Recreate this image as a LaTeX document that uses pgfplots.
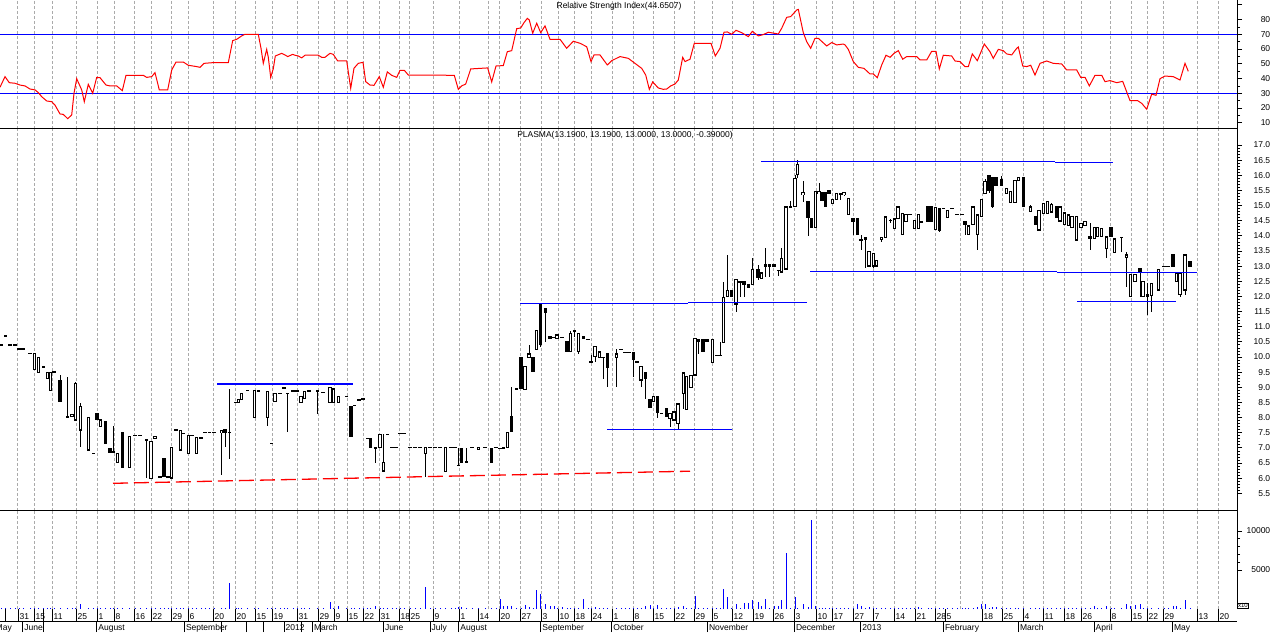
\documentclass[border=0pt]{standalone}
\usepackage{pgfplots}
\pgfplotsset{compat=1.18}
\usepackage{pgfplotstable}
\usepackage{fontspec}
\setmainfont{Liberation Sans}
\definecolor{gridgray}{RGB}{170,170,170}
\tikzset{lbl/.style={font=\fontsize{8.5}{10}\selectfont}}

\pgfplotstableread{
x o h l c v
1 10.40 10.40 10.40 10.40 150
5.5 10.71 10.71 10.71 10.71 150
10 10.40 10.40 10.40 10.40 150
15 10.40 10.40 10.40 10.40 150
19 10.27 10.27 10.27 10.27 150
23 10.27 10.27 10.27 10.27 150
30 10.12 10.12 10.12 10.12 150
34.3 9.59 10.12 9.59 10.12 150
38.8 9.49 9.98 9.49 9.98 150
43.3 9.68 9.68 9.68 9.68 150
47.3 9.29 9.51 9.29 9.49 150
50.8 8.90 9.51 8.90 9.49 150
54 9.51 9.51 9.51 9.51 150
60 9.21 9.40 8.52 8.52 150
67.5 8.03 9.33 8.03 8.03 150
72 8.03 8.11 8.03 8.11 150
75.7 7.92 9.18 7.92 9.13 150
80.8 7.59 8.47 7.04 8.38 641
88.7 6.93 8.00 6.93 8.00 150
93.7 6.82 6.82 6.82 6.82 150
97 8.12 8.12 7.94 7.94 150
100.8 7.70 7.92 7.70 7.92 150
105.7 7.87 7.87 7.15 7.15 150
110 6.99 6.99 6.84 6.84 150
113.3 6.87 7.72 6.84 6.87 150
117.7 6.51 6.82 6.51 6.82 150
122.5 7.52 7.52 6.36 6.36 150
129.7 6.36 7.39 6.36 7.39 150
135 7.41 7.41 7.41 7.41 150
140 7.41 7.41 7.41 7.41 150
146.7 7.29 7.29 5.99 7.23 150
151 5.98 7.21 5.98 7.21 150
155 7.31 7.39 7.31 7.39 150
160 6.05 6.05 6.05 6.05 150
164 6.65 6.65 6.05 6.05 150
168 6.05 6.05 6.05 6.05 150
171.7 6.00 7.02 6.00 7.02 150
176 7.59 7.59 7.59 7.59 150
180.3 6.93 7.59 6.93 7.57 150
183.3 7.48 7.48 7.48 7.48 150
188.8 6.82 7.42 6.82 7.42 150
192 7.41 7.41 7.41 7.41 150
196.3 6.82 7.35 6.82 7.35 150
201 7.34 7.34 7.34 7.34 150
205 7.51 7.51 7.51 7.51 150
209.5 7.51 7.51 7.51 7.51 150
214 7.51 7.51 7.51 7.51 150
221.3 7.51 7.57 6.10 7.57 150
225 7.59 7.59 7.04 7.52 150
229.3 7.51 8.96 6.62 7.51 3376
236 8.50 8.50 8.50 8.50 150
238.7 8.50 8.61 8.50 8.61 150
241.7 8.60 8.80 8.60 8.80 150
247.5 8.90 8.90 8.90 8.90 150
254.8 8.01 8.89 8.01 8.89 150
258.3 8.89 8.89 8.89 8.89 150
267.3 8.01 8.87 7.72 8.87 150
271.7 7.15 7.15 7.15 7.15 150
275 8.53 8.80 8.53 8.80 150
280 8.80 8.80 8.80 8.80 150
284 8.99 8.99 8.99 8.99 150
287.5 8.80 8.80 7.53 8.80 150
293 8.89 8.89 8.89 8.89 150
297 8.89 8.89 8.89 8.89 150
301 8.50 8.69 8.50 8.69 150
304.5 8.62 8.87 8.62 8.87 150
309 8.89 8.89 8.89 8.89 150
317.7 8.90 8.90 8.12 8.85 150
323 8.83 8.83 8.83 8.83 150
330 8.50 9.00 8.50 9.00 940
333.5 8.50 8.95 8.50 8.95 150
338.3 8.50 8.69 8.50 8.69 384
346.7 8.71 8.71 8.71 8.71 150
351 8.38 8.38 7.39 7.39 150
354.7 8.40 8.40 8.40 8.40 150
359 8.61 8.61 8.56 8.56 150
363 8.62 8.62 8.62 8.62 150
367.5 7.31 7.31 7.31 7.31 150
370.7 7.31 7.31 7.00 7.00 150
375.7 7.00 7.00 6.51 7.00 384
380 7.00 7.44 7.00 7.44 150
383.5 6.23 7.45 6.23 6.51 150
387.5 7.45 7.45 7.45 7.45 150
392 7.02 7.02 7.02 7.02 150
396 7.02 7.02 7.02 7.02 150
400 7.48 7.48 7.48 7.48 150
404 7.48 7.48 7.48 7.48 150
410 7.02 7.02 7.02 7.02 150
415 7.02 7.02 7.02 7.02 150
420 7.02 7.02 7.02 7.02 150
425.3 6.82 7.02 6.05 7.02 2780
430 7.02 7.02 7.02 7.02 150
435 7.02 7.02 7.02 7.02 150
440 7.02 7.02 7.02 7.02 150
445.7 6.21 7.02 6.21 7.02 150
451 7.02 7.02 7.02 7.02 150
455 7.02 7.02 7.02 7.02 150
458.7 6.43 6.98 6.43 6.43 218
461.7 6.98 6.98 6.51 6.51 256
466.7 6.54 6.98 6.54 6.54 150
472 7.02 7.02 7.02 7.02 150
478.7 6.96 7.02 6.96 7.02 150
485 7.02 7.02 7.02 7.02 150
491.7 6.98 6.98 6.51 6.51 150
496 7.02 7.02 7.02 7.02 150
500 6.98 6.98 6.98 6.98 1282
503.5 7.00 7.00 7.00 7.00 384
507.7 7.02 7.50 7.02 7.50 384
511.7 8.03 9.02 7.53 7.53 384
516.5 8.96 8.96 8.96 8.96 150
521 9.99 9.99 8.96 8.96 150
525 8.93 9.70 8.93 9.70 513
529 9.99 10.40 9.99 10.10 300
533 9.99 9.99 9.51 9.51 150
536.7 10.25 10.87 10.25 10.87 2436
540.7 11.72 11.72 10.34 10.40 1923
545.7 11.61 11.61 10.51 11.46 640
550 10.69 10.69 10.62 10.62 384
554 10.65 10.65 10.65 10.65 384
557 10.62 10.73 10.62 10.73 150
562 10.65 10.65 10.65 10.65 256
567 10.51 10.51 10.17 10.17 150
570.5 10.17 10.87 10.17 10.78 150
574.7 10.87 10.89 10.65 10.87 150
578.7 10.17 10.78 10.10 10.78 150
583.3 10.67 10.67 10.62 10.62 1282
588 10.58 10.58 10.58 10.58 150
591 9.84 10.06 9.84 9.84 150
595 10.01 10.34 9.84 10.34 256
599.3 9.99 10.17 9.99 10.17 150
603 9.99 9.99 9.29 9.99 150
607.7 10.12 10.12 9.02 9.66 150
616.7 9.99 10.25 9.02 10.10 150
621 10.25 10.25 10.25 10.25 150
625 10.15 10.15 10.15 10.15 150
629 10.15 10.15 10.15 10.15 150
633.3 10.15 10.15 9.33 9.93 150
637 9.84 9.84 9.84 9.84 150
641 9.24 9.70 9.02 9.70 150
645.7 9.49 9.49 8.63 9.28 384
650 8.61 8.61 8.33 8.33 513
653.3 8.52 8.69 8.52 8.69 150
657.7 8.71 8.71 8.00 8.16 513
661.7 8.14 8.14 8.14 8.14 150
666.7 8.30 8.30 8.03 8.03 150
670 7.97 8.14 7.70 8.14 150
674 7.92 8.19 7.92 8.19 150
678 7.79 8.45 7.62 8.45 256
683.3 8.80 9.48 8.27 9.48 384
686.3 8.27 9.37 8.27 9.37 150
691 9.00 9.40 9.00 9.40 150
695 9.40 10.62 9.40 10.62 1667
698.3 10.58 10.58 10.10 10.51 150
703 10.58 10.58 10.17 10.17 150
707 10.58 10.58 10.51 10.51 150
712.3 9.81 10.58 9.81 10.58 150
716.7 10.06 10.06 10.06 10.06 150
720 10.06 10.51 10.06 10.06 150
723.3 10.47 12.48 10.47 11.97 2564
727.7 11.99 13.37 11.99 12.21 1496
731.7 12.19 12.19 11.99 11.99 150
736 11.75 12.57 11.50 12.57 641
740 12.48 12.48 11.99 12.48 150
744 12.48 12.48 11.99 12.38 726
748.7 12.38 12.38 12.30 12.30 726
752.7 12.40 13.26 12.40 12.90 1197
758 12.90 13.05 12.53 12.62 897
761.3 12.60 12.78 12.60 12.78 384
765.7 13.06 13.59 12.64 13.00 1282
769.3 13.06 13.06 12.64 13.00 150
774 13.06 13.06 13.00 13.00 384
778.3 12.87 12.87 12.68 12.87 384
781.7 12.80 13.59 12.80 13.26 1197
786 12.90 14.96 12.90 14.96 7222
790.7 14.98 15.15 14.94 14.94 150
795 14.96 16.00 14.96 15.90 1496
797.7 16.01 16.50 15.90 16.37 150
803 15.35 15.82 15.13 15.43 641
808 15.15 15.15 14.00 14.60 256
811.3 14.58 14.58 14.28 14.28 11410
815.3 14.28 15.46 14.28 15.46 384
819 15.40 15.73 15.40 15.46 150
822 15.43 15.43 15.18 15.18 150
825.5 15.43 15.43 14.98 14.98 150
829 15.51 15.51 15.40 15.40 150
832.3 15.07 15.20 15.07 15.20 150
836.7 15.20 15.40 15.20 15.40 150
840.7 15.35 15.40 15.20 15.40 150
844 15.35 15.44 15.30 15.44 150
848.3 14.71 15.24 14.71 15.24 150
853 14.56 14.56 14.03 14.49 150
857.3 14.58 14.58 14.03 14.03 641
861 13.86 14.03 13.53 13.88 384
865.3 13.95 13.95 12.93 13.88 150
869 13.00 13.48 13.00 13.48 256
873.7 13.00 13.42 12.93 13.42 150
876.7 13.00 13.20 13.00 13.20 150
881.3 13.88 13.95 13.81 13.95 150
885.7 13.95 14.63 13.95 14.63 150
890.7 14.52 14.56 14.41 14.52 150
894.3 14.25 14.56 14.25 14.56 150
898 14.56 14.96 14.56 14.96 150
902.3 14.03 14.74 14.03 14.74 150
906 14.47 14.72 14.47 14.72 150
910 14.72 14.72 14.72 14.72 150
914.3 14.25 14.52 14.25 14.52 150
918.3 14.25 14.72 14.25 14.72 300
921.7 14.47 14.47 14.47 14.47 150
928 14.96 14.96 14.47 14.47 150
931.7 14.96 14.96 14.47 14.47 150
935.7 14.21 14.93 14.21 14.93 150
939.7 14.91 14.91 14.14 14.19 150
943.3 14.91 14.91 14.91 14.91 150
947.7 14.61 14.85 14.61 14.85 150
952 14.91 14.91 14.91 14.91 150
957 14.72 14.72 14.72 14.72 150
962 14.72 14.72 14.72 14.72 150
965 14.47 14.47 14.03 14.39 150
968.7 14.03 14.33 14.03 14.33 150
973 14.36 14.96 14.36 14.96 150
977.3 14.03 14.69 13.53 14.69 256
981.3 14.63 15.20 14.63 15.20 598
985 15.40 15.87 15.40 15.79 598
989 15.98 15.98 15.40 15.51 150
992.7 15.93 15.93 14.91 14.96 256
996 15.93 15.93 15.65 15.65 256
1001.3 15.87 15.98 15.65 15.65 150
1006.7 15.40 15.57 15.40 15.57 150
1010.3 15.10 15.46 15.10 15.46 150
1015 15.10 15.84 15.10 15.84 150
1018.3 15.84 15.93 15.84 15.93 150
1023.3 15.93 15.93 14.96 14.96 150
1030.3 14.80 15.02 14.80 14.96 150
1035.7 14.65 14.65 14.36 14.36 150
1039 14.19 14.85 14.19 14.85 150
1043.3 14.74 15.07 14.74 15.07 150
1047.7 14.74 15.15 14.74 15.15 150
1051.7 14.78 15.10 14.78 15.05 150
1056.7 14.96 14.96 14.61 14.61 150
1060 14.49 14.96 14.49 14.96 150
1064.7 14.36 14.76 14.36 14.76 150
1068.3 14.33 14.72 14.33 14.69 150
1072 14.28 14.65 14.28 14.65 150
1076.3 13.86 14.65 13.86 14.65 150
1081 14.28 14.41 14.28 14.41 150
1085 14.33 14.47 14.33 14.47 150
1090 13.97 14.41 13.53 13.92 150
1094.3 13.92 14.28 13.92 14.28 384
1097.7 13.97 14.28 13.97 14.28 150
1101.7 13.97 14.25 13.97 14.25 150
1106.3 13.59 13.97 13.26 13.97 384
1111 14.28 14.28 13.97 13.97 150
1114.3 13.45 13.90 13.45 13.90 150
1121.7 13.95 13.97 13.48 13.95 150
1126.3 13.30 13.48 12.32 13.37 641
1130.7 11.99 12.74 11.99 12.74 384
1135 12.49 12.74 12.49 12.74 513
1140 12.93 12.93 11.99 12.82 641
1143 11.99 12.49 11.99 12.49 150
1147.3 12.05 12.43 11.39 11.99 150
1151.3 12.02 12.43 11.50 12.43 150
1158.3 12.21 12.90 12.21 12.90 150
1164 13.00 13.00 13.00 13.00 150
1168 13.00 13.00 13.00 13.00 150
1173 13.37 13.37 13.00 13.00 384
1176.5 12.49 12.76 12.49 12.76 384
1180 12.05 12.76 11.99 12.76 150
1185 12.21 13.37 12.05 13.37 1154
1190 13.15 13.15 12.98 12.98 150
}\candles

\pgfplotstableread{
x r
0 34.1
5 41.3
9.3 37.2
15 36.8
20 35.6
25 35.0
30 32.9
35 32.3
38.3 30.5
41.7 27.7
46.7 24.8
51.7 24.3
55 22.0
60 16.0
63.3 15.7
67.7 12.8
71.7 15.3
74 30.0
76.7 39.9
81.7 32.3
84.3 24.3
88.3 36.1
92.7 30.0
96.7 40.8
100 40.6
106 35.6
110 35.0
116.7 35.0
122.3 31.8
126 42.2
143.3 42.2
146.7 40.8
151.7 41.3
155 44.0
159.3 32.3
167.7 32.3
171.7 45.8
176 51.2
183.3 51.2
188.3 49.0
196.7 48.1
200 47.6
204 50.3
213.3 50.8
228.3 50.8
232.7 65.7
236.7 66.6
241.7 68.9
245 70.0
258.3 70.0
261 60.5
263.3 50.3
266.7 59.8
268.3 54.4
270.7 40.8
273.3 46.7
275.3 55.3
281.7 57.1
285 56.0
287.7 54.9
292.7 56.4
295 55.8
298.3 55.3
301.7 54.0
305 55.8
318.3 55.8
321.7 54.4
325 54.4
330 57.1
333.3 56.4
337.7 51.9
346.7 51.9
350.7 33.4
354 47.0
358.3 50.3
363 51.0
365.7 37.9
370 35.6
374 35.4
379.3 41.3
383.3 34.1
387.3 44.5
391.7 42.2
396.7 40.8
400 45.6
404.3 45.6
408.3 42.4
454.3 42.2
458.3 32.7
461.7 35.0
465.7 36.3
470.7 46.5
475 46.7
487.7 47.2
491.7 37.7
496 48.5
503.3 48.8
507.3 58.2
511.7 58.9
516.7 73.8
520.7 74.3
524 77.9
527.3 80.8
529.3 79.7
532.7 70.7
536.7 77.5
540.7 71.1
545 75.7
550 66.6
560 66.6
566.7 60.5
573.3 65.3
580 63.9
586.7 61.6
591 51.5
594 56.0
600 56.0
607.3 49.2
611.7 52.1
620 54.9
628.3 53.7
635 50.3
641.7 46.9
645.7 42.4
649.3 32.7
652.7 37.7
658.3 33.6
663.3 32.7
666.7 32.9
670.7 35.0
675 36.3
678.3 39.0
682.7 54.4
685 51.5
690 53.1
694.3 63.9
711 63.9
715.3 55.3
720 60.5
724 71.4
727.3 71.6
731.7 70.0
736 72.7
741.7 71.1
748.3 68.4
752.3 72.0
758.3 68.9
763.3 69.8
768.3 71.4
778.3 70.2
781.7 74.1
786.7 81.5
790.7 82.0
796.7 86.5
798.3 86.9
803.3 71.1
806.7 65.0
810.7 60.5
815 67.3
818.3 67.3
826.7 62.1
831.7 64.4
836.7 62.8
843.3 63.4
845 62.8
848.3 59.8
853.3 51.5
858.3 47.6
864 46.9
870 43.1
873.3 43.1
877.3 40.6
881.7 49.2
886 55.8
890 54.4
894 57.1
898.3 58.9
902.7 53.1
906.7 54.9
916.7 54.9
920 52.6
926.7 52.6
931.7 58.5
936 58.5
939.3 46.5
943.3 55.8
951.7 55.3
955 51.9
960 51.5
965 48.1
968.3 48.1
972.3 56.7
977.3 52.1
984.3 63.4
990 58.2
993.3 53.7
998.3 59.8
1003.3 58.9
1006.7 56.7
1011.7 56.0
1016.7 60.5
1018.3 61.4
1022.7 48.5
1026.7 48.1
1030.7 49.0
1035 42.4
1040 50.3
1046.7 51.9
1053.3 50.3
1061.7 49.9
1066.7 45.8
1076.7 45.8
1080.7 40.8
1085 40.8
1089.3 35.0
1095 42.2
1101.7 42.2
1105 37.9
1110 38.6
1116.7 37.2
1122.7 38.1
1130 25.0
1137.7 25.0
1141.7 23.2
1146.7 19.2
1151.7 29.5
1156 28.6
1160 39.9
1165 41.7
1173.3 41.3
1180 39.0
1185 50.3
1188.3 44.9
}\rsidata

\pgfplotsset{
  panel/.style={
    scale only axis, width=1237pt, xmin=0, xmax=1237,
    anchor=south west,
    axis x line*=bottom, axis y line*=right,
    x axis line style={-, line width=1pt, black},
    y axis line style={-, line width=1pt, black},
    xtick={17,34,52,76,97,114,134,151,171,188,213,235,255,272,297,318,334,347,363,379,399,409,433,459,488,499,520,541,558,574,591,612,633,653,674,694,712,732,753,773,794,816,832,853,873,894,915,935,960,982,1002,1023,1043,1064,1081,1110,1131,1147,1163,1197,1218},
    xticklabels={},
    xtick style={draw=none},
    xmajorgrids,
    major grid style={gridgray, dash pattern=on 3pt off 2pt, line width=0.8pt},
    tick align=outside, major tick length=5pt, minor tick length=3pt,
    ytick style={black, line width=0.8pt},
    yticklabel style={lbl, anchor=west, inner sep=0pt, text width=28pt, align=right},
    /pgf/number format/assume math mode=true,
    /pgf/number format/1000 sep={},
    scaled y ticks=false,
  },
  strip/.style={
    scale only axis, width=1237pt, xmin=0, xmax=1237, ymin=0, ymax=1,
    anchor=south west,
    axis x line*=bottom, axis y line=none,
    x axis line style={-, line width=1pt, black},
    xmajorgrids,
    major grid style={black, solid, line width=1pt},
    major tick length=0pt,
    xtick style={draw=none},
    xticklabel style={lbl, anchor=base west, inner sep=0pt, xshift=1.5pt},
  },
  candle/.style 2 args={draw=none, mark=none, forget plot,
    error bars/.cd, y dir=both, y explicit, error mark=none,
    error bar style={draw=#1, solid, line width=#2}},
}

\begin{document}
\begin{tikzpicture}
\useasboundingbox (0pt,0pt) rectangle (1274pt,632pt);

% RSI panel
\begin{axis}[panel, at={(0pt,503pt)}, height=129pt, ymin=5.8, ymax=93.25,
  ytick={10,20,...,80}, minor y tick num=1,
  extra y ticks={90}, extra y tick labels={}, extra y tick style={xmajorgrids=false}]
\addplot[blue, line width=1.2pt] coordinates {(0,70) (1237,70)};
\addplot[blue, line width=1.2pt] coordinates {(0,30) (1237,30)};
\addplot[red, line width=1pt] table[x=x, y=r] {\rsidata};
\node[lbl, anchor=north, inner sep=0pt] at (axis cs:619,93.25) [yshift=-2pt] {Relative Strength Index(44.6507)};
\end{axis}

% Price panel
\begin{axis}[panel, at={(0pt,121pt)}, height=382pt, ymin=4.916, ymax=17.528,
  ytick={5.5,6,...,17}, minor y tick num=4,
  yticklabel style={/pgf/number format/.cd, fixed, fixed zerofill, precision=1}]
% wicks
\addplot[candle={black}{1pt}]
  table[x=x, y expr={(\thisrow{h}+\thisrow{l})/2},
        y error plus expr={(\thisrow{h}-\thisrow{l})/2},
        y error minus expr={(\thisrow{h}-\thisrow{l})/2}] {\candles};
% bodies
\addplot[candle={black}{3.2pt}]
  table[x=x, y expr={(\thisrow{o}+\thisrow{c})/2},
        y error plus expr={abs(\thisrow{c}-\thisrow{o})/2+0.017},
        y error minus expr={abs(\thisrow{c}-\thisrow{o})/2+0.017}] {\candles};
% hollow interiors
\addplot[candle={white}{1.2pt}]
  table[x=x, y expr={(\thisrow{o}+\thisrow{c})/2},
        y error plus expr={max((\thisrow{c}-\thisrow{o})/2-0.025,0)},
        y error minus expr={max((\thisrow{c}-\thisrow{o})/2-0.025,0)}] {\candles};
% trend lines
\addplot[blue, line width=1.2pt] coordinates {(217,9.11) (353,9.11)};
\addplot[blue, line width=1.2pt] coordinates {(520,11.77) (688,11.77)};
\addplot[blue, line width=1.2pt] coordinates {(688,11.80) (806.7,11.80)};
\addplot[blue, line width=1.2pt] coordinates {(607.3,7.61) (731.7,7.61)};
\addplot[blue, line width=1.2pt] coordinates {(761,16.46) (1055,16.46)};
\addplot[blue, line width=1.2pt] coordinates {(1055,16.43) (1113.3,16.43)};
\addplot[blue, line width=1.2pt] coordinates {(810,12.83) (1057,12.83)};
\addplot[blue, line width=1.2pt] coordinates {(1057,12.80) (1196.7,12.80)};
\addplot[blue, line width=1.2pt] coordinates {(1077,11.84) (1175.7,11.84)};
\addplot[red, line width=1.3pt, dash pattern=on 15pt off 6pt] coordinates {(113,5.83) (425,6.05) (690,6.23)};
\node[lbl, anchor=north, inner sep=0pt] at (axis cs:625,17.528) [yshift=-2pt] {PLASMA(13.1900, 13.1900, 13.0000, 13.0000, -0.39000)};
\end{axis}

% Volume panel
\begin{axis}[panel, at={(0pt,23pt)}, height=98pt, ymin=0, ymax=12564,
  x axis line style={draw=none}, clip=false,
  ytick={5000,10000}, minor y tick num=4]
\addplot[blue, ycomb, mark=none, line width=1pt] table[x=x, y=v] {\candles};
\node[draw=black, line width=0.6pt, inner sep=0.8pt, font=\fontsize{6}{6}\selectfont, anchor=south west] at (axis cs:1237,0) {x10};
\end{axis}

% Day strip
\begin{axis}[strip, at={(0pt,11pt)}, height=12pt,
  xtick={5,18,34,43,52,76,97,114,134,151,171,188,213,235,255,272,297,318,334,347,363,379,399,409,433,459,478,499,520,541,558,574,591,612,633,653,674,694,712,732,753,773,794,816,832,853,873,894,915,935,945,982,1002,1023,1043,1064,1081,1110,1131,1147,1163,1197,1218},
  xticklabels={,31,15,,11,25,1,8,16,22,29,6,20,20,15,19,31,29,9,15,22,31,18,25,9,1,14,20,27,3,10,18,24,1,8,15,22,29,5,12,19,26,3,10,17,27,7,14,21,28,5,18,25,4,11,18,26,8,15,22,29,13,20},
  xticklabel style={yshift=2pt}]
\end{axis}

% Month strip
\begin{axis}[strip, at={(0pt,0pt)}, height=11pt, clip=false,
  x axis line style={draw=none},
  xtick={22.7,43.3,96.7,184.3,221.7,246.7,263.3,284,301,312.3,320,383.3,430,458.7,540.7,611.7,707.3,794.3,860.7,943.3,1018.3,1094,1172.3},
  xticklabels={June,,August,September,,,,2012,,March,,June,July,August,September,October,November,December,2013,February,March,April,May},
  xticklabel style={yshift=1.5pt}]
\node[lbl, anchor=base west, inner sep=0pt] at (axis cs:-4.5,0) [yshift=1.5pt] {May};
\end{axis}
\end{tikzpicture}
\end{document}
